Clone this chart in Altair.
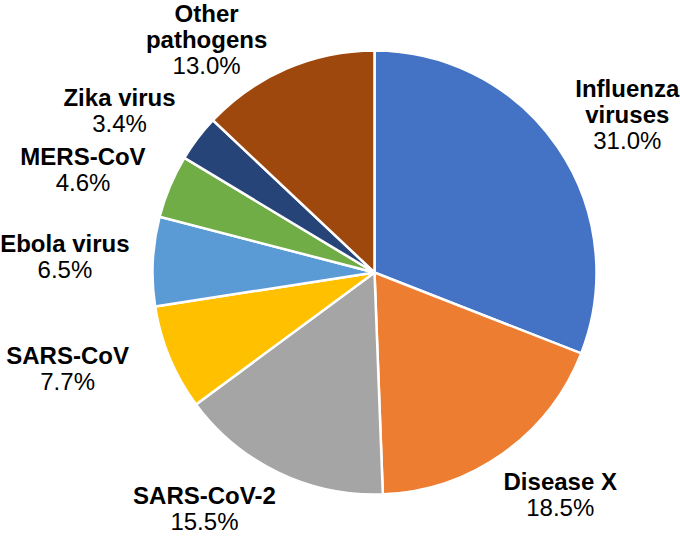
import math
import altair as alt
import pandas as pd

# ---- data ----
categories = ["Influenza viruses", "Disease X", "SARS-CoV-2", "SARS-CoV",
              "Ebola virus", "MERS-CoV", "Zika virus", "Other pathogens"]
label_names = ["Influenza\nviruses", "Disease X", "SARS-CoV-2", "SARS-CoV",
               "Ebola virus", "MERS-CoV", "Zika virus", "Other\npathogens"]
values = [31.0, 18.5, 15.5, 7.7, 6.5, 4.6, 3.4, 13.0]
colors = ["#4472C4", "#ED7D31", "#A5A5A5", "#FFC000",
          "#5B9BD5", "#70AD47", "#264478", "#9E480E"]

# ---- layout (label placement tweaks, pixels) ----
CX, CY, R = 374.5, 272.5, 222
LABEL_R = 300
LINE_H = 26
nudges = [(5, 13), (12, -21), (-40, -33), (-30, -18),
          (-10, 1), (-15, 15), (-16, 21), (-49, 44)]

total = sum(values)
rows = []
cum = 0.0
for i, (c, ln, v) in enumerate(zip(categories, label_names, values)):
    mid = 2 * math.pi * (cum + v / 2) / total
    cum += v
    cx = CX + LABEL_R * math.sin(mid) + nudges[i][0]
    cy = CY - LABEL_R * math.cos(mid) + nudges[i][1]
    n = ln.count("\n") + 2
    rows.append({
        "idx": i, "category": c, "label": ln, "value": v,
        "pct": f"{v:.1f}%",
        "lx": cx,
        "ny": cy - (n - 1) * LINE_H / 2,
        "py": cy + (n - 1) * LINE_H / 2,
    })
df = pd.DataFrame(rows)

base = alt.Chart(df)

pie = base.mark_arc(outerRadius=R, stroke="white", strokeWidth=2.5).encode(
    theta=alt.Theta("value:Q", stack=True),
    color=alt.Color("category:N", scale=alt.Scale(domain=categories, range=colors), legend=None),
    order=alt.Order("idx:Q"),
    x=alt.value(CX),
    y=alt.value(CY),
)

names = base.mark_text(font="Liberation Sans", fontSize=24, fontWeight="bold",
                       color="black", lineBreak="\n", lineHeight=LINE_H,
                       align="center", baseline="middle").encode(
    x=alt.X("lx:Q", scale=None, axis=None),
    y=alt.Y("ny:Q", scale=None, axis=None),
    text="label:N",
)

pcts = base.mark_text(font="Liberation Sans", fontSize=24, color="black",
                      align="center", baseline="middle").encode(
    x=alt.X("lx:Q", scale=None, axis=None),
    y=alt.Y("py:Q", scale=None, axis=None),
    text="pct:N",
)

chart = alt.layer(pie, names, pcts).properties(
    width=680, height=537, padding=0,
    autosize=alt.AutoSizeParams(type="none"),
    background="white",
).configure_view(stroke=None)

chart.save("out.html", embed_options={"renderer": "svg", "actions": False})
